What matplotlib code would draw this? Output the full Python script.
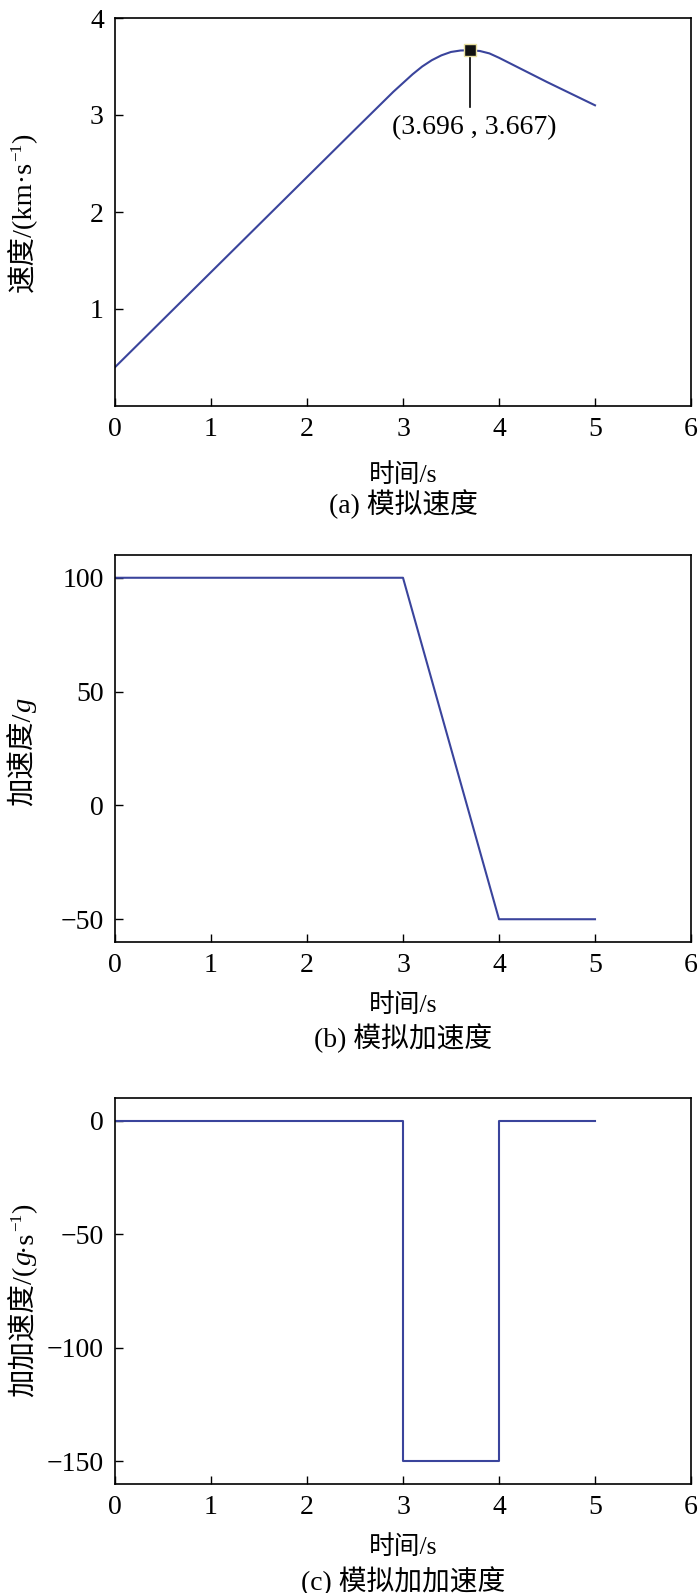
import matplotlib
matplotlib.use("Agg")
import matplotlib.pyplot as plt

FAM = ['Liberation Serif', 'Noto Sans CJK SC', 'DejaVu Serif']
plt.rcParams['font.family'] = FAM
plt.rcParams['font.size'] = 20

# ---- data ----
t_vel = [0.0, 0.5, 1.0, 1.5, 2.0, 2.5, 2.9, 3.0, 3.1, 3.2, 3.3, 3.4, 3.5, 3.6,
         3.696, 3.8, 3.9, 4.0, 4.5, 5.0]
vel = [0.40, 0.89, 1.38, 1.87, 2.36, 2.85, 3.24, 3.33, 3.42, 3.50, 3.565, 3.615,
       3.65, 3.665, 3.667, 3.66, 3.635, 3.59, 3.34, 3.10]

t_acc = [0.0, 3.0, 4.0, 5.0]
acc = [100, 100, -50, -50]

t_jerk = [0.0, 3.0, 3.0, 4.0, 4.0, 5.0]
jerk = [0, 0, -150, -150, 0, 0]

peak_x = 3.696
peak_y = 3.667
peak_label = "(3.696 , 3.667)"

x_ticks = [0, 1, 2, 3, 4, 5, 6]
y1_ticks = [1, 2, 3, 4]
y2_ticks = [-50, 0, 50, 100]
y3_ticks = [-150, -100, -50, 0]

xlabel = "时间/s"
# y labels as (text, style) pieces: 'n' normal, 'i' italic, 's' superscript
ylabel1 = [("速度/(km·s", 'n'), ("−1", 's'), (")", 'n')]
ylabel2 = [("加速度/", 'n'), ("g", 'i')]
ylabel3 = [("加加速度/(", 'n'), ("g", 'i'), ("·s", 'n'), ("−1", 's'), (")", 'n')]
captions = ["(a) 模拟速度", "(b) 模拟加速度", "(c) 模拟加加速度"]

LINE = '#3a449c'

W, H = 700, 1593
fig = plt.figure(figsize=(W / 100, H / 100), dpi=100)
renderer = fig.canvas.get_renderer()

left = 115 / W
width = (691 - 115) / W
tops = [18, 555, 1098]
bottoms = [406, 942, 1484]

axes = []
for tp, bt in zip(tops, bottoms):
    ax = fig.add_axes([left, 1 - bt / H, width, (bt - tp) / H])
    axes.append(ax)

ax1, ax2, ax3 = axes
ax1.plot(t_vel, vel, color=LINE, lw=1.5)
ax1.set_ylim(0, 4)
ax1.set_yticks(y1_ticks)
ax1.plot([peak_x, peak_x], [peak_y, 3.08], color='black', lw=1.2, zorder=3)
ax1.plot([peak_x], [peak_y], marker='s', ms=8, mfc='#111111', mec='#e8e0a0',
         mew=1, zorder=4)
ax1.text(3.74, 2.87, peak_label, ha='center', va='center', fontsize=20)

ax2.plot(t_acc, acc, color=LINE, lw=1.5)
ax2.set_ylim(-60, 110)
ax2.set_yticks(y2_ticks)

ax3.plot(t_jerk, jerk, color=LINE, lw=1.5)
ax3.set_ylim(-160, 10)
ax3.set_yticks(y3_ticks)


def rotated_label(pieces, x_px, yc_px, size=20.5):
    """Draw a vertical label made of pieces, centred at (x_px, yc_px) from top-left."""
    x_base = x_px + 7  # baseline position (text extends to the left of it)
    made = []
    for txt, st in pieces:
        kw = dict(rotation=90, rotation_mode='anchor', ha='left', va='baseline',
                  family=FAM)
        if st == 'i':
            kw['style'] = 'italic'
            kw['fontsize'] = size
            dx = 0
        elif st == 's':
            kw['fontsize'] = size * 0.6
            dx = -10
        else:
            kw['fontsize'] = size
            dx = 0
        t = fig.text(0, 0, txt, **kw)
        ext = t.get_window_extent(renderer)
        made.append((t, ext.height, dx))
    total = sum(h for _, h, _ in made)
    y = (H - yc_px) - total / 2
    for t, h, dx in made:
        t.set_position(((x_base + dx) / W, y / H))
        y += h


lab_off = [69, 63, 63]
cap_off = [98, 96, 97]
for ax, cap, tp, bt, lo, co in zip(axes, captions, tops, bottoms, lab_off, cap_off):
    ax.set_xlim(0, 6)
    ax.set_xticks(x_ticks)
    ax.tick_params(direction='in', length=6, width=1, top=False, right=False,
                   labelsize=20, pad=8)
    ax.set_yticklabels([("−" + str(-v)) if v < 0 else str(v) for v in ax.get_yticks()])
    for s in ax.spines.values():
        s.set_linewidth(1.2)
    hpx = bt - tp
    ax.text(0.5, -lo / hpx, xlabel, transform=ax.transAxes, ha='center',
            va='center', fontsize=18.5)
    ax.text(0.5, -co / hpx, cap, transform=ax.transAxes, ha='center',
            va='center', fontsize=20)

rotated_label(ylabel1, 24, 213)
rotated_label(ylabel2, 24, 752)
rotated_label(ylabel3, 24, 1300)

fig.savefig('out.png', dpi=100)
